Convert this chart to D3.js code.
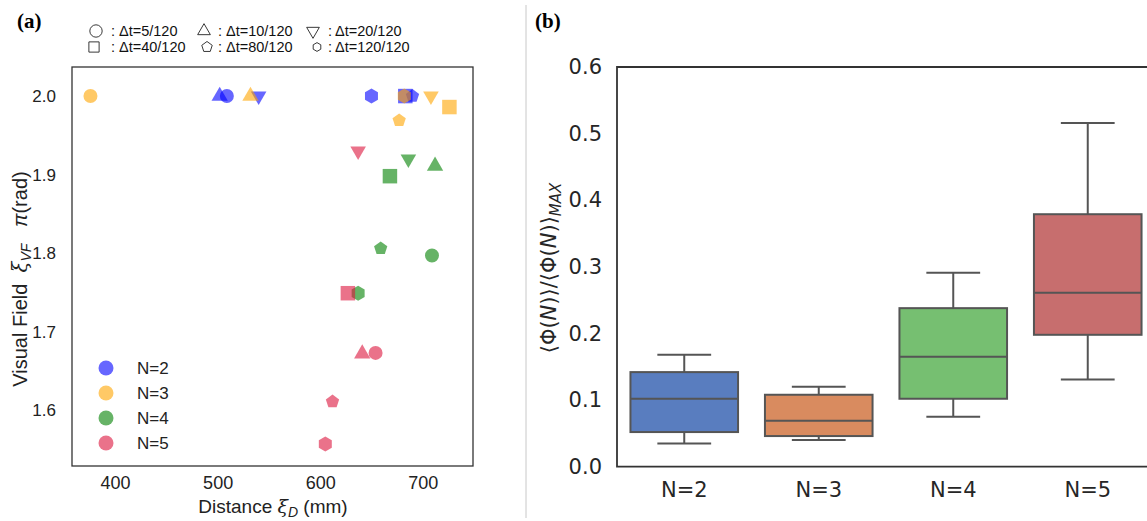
<!DOCTYPE html>
<html>
<head>
<meta charset="utf-8">
<script src="https://cdn.jsdelivr.net/npm/d3@7"></script>
<style>
  body { margin: 0; background: #fff; }
  svg { display: block; }
</style>
</head>
<body>
<svg id="fig" width="1147" height="521"></svg>
<script>
// ---- data, panel (a) ----
const shapeNames = ["circle", "triangle", "down", "square", "pentagon", "hexagon"];
const dtLabels = ["Δt=5/120", "Δt=10/120", "Δt=20/120", "Δt=40/120", "Δt=80/120", "Δt=120/120"];
const groups = ["N=2", "N=3", "N=4", "N=5"];
const groupColors = ["blue", "orange", "green", "crimson"];

// distance (mm) and visual field (pi rad), in shape order above
const distN2 = [509, 502, 540, 683, 690, 650];
const fieldN2 = [2.0, 2.0, 2.0, 2.0, 2.0, 2.0];
const distN3 = [376, 532, 708, 726, 677, 682];
const fieldN3 = [2.0, 2.0, 2.0, 1.986, 1.969, 2.0];
const distN4 = [709, 712, 686, 668, 659, 637];
const fieldN4 = [1.797, 1.911, 1.920, 1.898, 1.806, 1.749];
const distN5 = [654, 641, 637, 627, 612, 605];
const fieldN5 = [1.673, 1.672, 1.930, 1.749, 1.611, 1.557];

const xTicksA = [400, 500, 600, 700];
const yTicksA = [1.6, 1.7, 1.8, 1.9, 2.0];

// ---- data, panel (b) ----
const whiskLo = [0.035, 0.040, 0.075, 0.131];
const q1 = [0.052, 0.046, 0.102, 0.198];
const med = [0.102, 0.069, 0.165, 0.261];
const q3 = [0.142, 0.108, 0.238, 0.379];
const whiskHi = [0.168, 0.120, 0.291, 0.516];
const boxColors = ["#597dbf", "#d98b5f", "#76bf71", "#c76e6e"];
const yTicksB = [0.0, 0.1, 0.2, 0.3, 0.4, 0.5, 0.6];

const svg = d3.select("#fig");

// regular polygon symbol type (size = area)
function polyType(n, flip) {
  return {
    draw(ctx, size) {
      const r = Math.sqrt(size / (n / 2 * Math.sin(2 * Math.PI / n)));
      for (let i = 0; i < n; i++) {
        const a = -Math.PI / 2 + i * 2 * Math.PI / n + (flip ? Math.PI : 0);
        const px = r * Math.cos(a), py = r * Math.sin(a);
        if (i == 0) ctx.moveTo(px, py); else ctx.lineTo(px, py);
      }
      ctx.closePath();
    }
  };
}
const symTypes = {
  circle: d3.symbolCircle,
  triangle: polyType(3, false),
  down: polyType(3, true),
  square: d3.symbolSquare,
  pentagon: polyType(5, false),
  hexagon: polyType(6, false)
};
const symSize = { circle: 154, triangle: 115, down: 105, square: 210, pentagon: 116, hexagon: 146 };
const legSize = { circle: 120, triangle: 70, down: 70, square: 105, pentagon: 72, hexagon: 50 };

// ================= panel (a) =================
const ax = { left: 72, right: 473, top: 67, bottom: 466 };
const x = d3.scaleLinear().domain([358, 749]).range([ax.left, ax.right]);
const y = d3.scaleLinear().domain([1.529, 2.037]).range([ax.bottom, ax.top]);

const ga = svg.append("g");

ga.append("g")
  .attr("transform", translate(0, ax.bottom))
  .call(d3.axisBottom(x).tickValues(xTicksA).tickSize(0).tickPadding(10))
  .call(g => g.select(".domain").remove())
  .selectAll("text")
  .attr("font-family", "Liberation Sans, Arial, sans-serif")
  .attr("font-size", 18).attr("fill", "#222");

ga.append("g")
  .attr("transform", translate(ax.left, 0))
  .call(d3.axisLeft(y).tickValues(yTicksA).tickSize(0).tickPadding(16).tickFormat(d3.format(".1f")))
  .call(g => g.select(".domain").remove())
  .selectAll("text")
  .attr("font-family", "Liberation Sans, Arial, sans-serif")
  .attr("font-size", 17).attr("fill", "#222");

const allDist = [distN2, distN3, distN4, distN5];
const allField = [fieldN2, fieldN3, fieldN4, fieldN5];
let pts = [];
groups.forEach((g, gi) => {
  shapeNames.forEach((s, si) => {
    pts.push({ g: gi, shape: s, d: allDist[gi][si], v: allField[gi][si] });
  });
});

ga.append("g").selectAll("path")
  .data(pts)
  .join("path")
  .attr("transform", d => translate(x(d.d), y(d.v)))
  .attr("d", d => d3.symbol().type(symTypes[d.shape]).size(symSize[d.shape])())
  .attr("fill", d => groupColors[d.g])
  .attr("fill-opacity", 0.6);

ga.append("rect")
  .attr("x", ax.left).attr("y", ax.top)
  .attr("width", ax.right - ax.left).attr("height", ax.bottom - ax.top)
  .attr("fill", "none").attr("stroke", "#333").attr("stroke-width", 1.3);

// N legend
const legA = ga.append("g");
groups.forEach((g, i) => {
  legA.append("circle").attr("cx", 106).attr("cy", 368 + i * 25).attr("r", 7.5)
    .attr("fill", groupColors[i]).attr("fill-opacity", 0.6);
  legA.append("text").attr("x", 137).attr("y", 374 + i * 25).text(g)
    .attr("font-family", "Liberation Sans, Arial, sans-serif").attr("font-size", 17).attr("fill", "#222");
});

// shape legend on top
const legPos = [[96, 31], [204, 31], [313, 31], [94, 47], [207, 47], [317, 47]];
shapeNames.forEach((s, i) => {
  const p = legPos[i];
  svg.append("path")
    .attr("transform", translate(p[0], p[1]))
    .attr("d", d3.symbol().type(symTypes[s]).size(legSize[s])())
    .attr("fill", "none").attr("stroke", "#222").attr("stroke-width", 0.9);
  svg.append("text").attr("x", (i % 3 == 0 ? 113 : p[0] < 250 ? 220 : 330)).attr("y", p[1] + 5)
    .attr("text-anchor", "middle")
    .attr("font-family", "Liberation Sans, Arial, sans-serif").attr("font-size", 14.5).attr("fill", "#111")
    .text(":");
  svg.append("text").attr("x", (i % 3 == 0 ? 119 : p[0] < 250 ? 226 : 335)).attr("y", p[1] + 5)
    .attr("font-family", "Liberation Sans, Arial, sans-serif").attr("font-size", 14.5).attr("fill", "#111")
    .text(dtLabels[i]);
});

// labels
const xl = ga.append("text").attr("x", 273).attr("y", 513).attr("text-anchor", "middle")
  .attr("font-family", "Liberation Sans, Arial, sans-serif").attr("font-size", 19).attr("fill", "#222");
xl.append("tspan").text("Distance ");
xl.append("tspan").attr("font-style", "italic").attr("font-family", "DejaVu Serif, serif").text("ξ");
xl.append("tspan").attr("font-style", "italic").attr("font-size", 14).attr("dy", 4).text("D");
xl.append("tspan").attr("dy", -4).text(" (mm)");

const yl = ga.append("text").attr("transform", translate(27, 279) + " rotate(-90)").attr("text-anchor", "middle")
  .attr("font-family", "Liberation Sans, Arial, sans-serif").attr("font-size", 20).attr("fill", "#222")
  .attr("xml:space", "preserve");
yl.append("tspan").text("Visual Field  ");
yl.append("tspan").attr("font-style", "italic").attr("font-family", "DejaVu Serif, serif").text("ξ");
yl.append("tspan").attr("font-style", "italic").attr("font-size", 14).attr("dy", 4).text("VF");
yl.append("tspan").attr("dy", -4).text("   ");
yl.append("tspan").attr("font-style", "italic").text("π");
yl.append("tspan").text("(rad)");

svg.append("text").attr("x", 17).attr("y", 28).text("(a)")
  .attr("font-family", "Liberation Serif, Times New Roman, serif").attr("font-weight", "bold").attr("font-size", 21);

// separator
svg.append("line").attr("x1", 526).attr("x2", 526).attr("y1", 5).attr("y2", 518)
  .attr("stroke", "#c8c8c8").attr("stroke-width", 1);

// ================= panel (b) =================
const bx = { left: 617, right: 1155, top: 67, bottom: 466.7 };
const xb = d3.scaleBand().domain(groups).range([bx.left, bx.right]).paddingInner(0.2).paddingOuter(0.1);
const yb = d3.scaleLinear().domain([0, 0.6]).range([bx.bottom, bx.top]);

const gb = svg.append("g");

gb.append("g")
  .attr("transform", translate(0, bx.bottom))
  .call(d3.axisBottom(xb).tickSize(0).tickPadding(15))
  .call(g => g.select(".domain").remove())
  .selectAll("text")
  .attr("font-family", "DejaVu Sans, sans-serif").attr("font-size", 21).attr("fill", "#262626");

gb.append("g")
  .attr("transform", translate(bx.left, 0))
  .call(d3.axisLeft(yb).tickValues(yTicksB).tickSize(0).tickPadding(15).tickFormat(d3.format(".1f")))
  .call(g => g.select(".domain").remove())
  .selectAll("text")
  .attr("font-family", "DejaVu Sans, sans-serif").attr("font-size", 21).attr("fill", "#262626");

const boxes = groups.map((g, i) => ({
  g: g, lo: whiskLo[i], q1: q1[i], med: med[i], q3: q3[i], hi: whiskHi[i], color: boxColors[i]
}));
const lineCol = "#555";
const bw = xb.bandwidth();

const bg = gb.append("g").selectAll("g").data(boxes).join("g");
// whiskers
bg.append("line")
  .attr("x1", d => xb(d.g) + bw / 2).attr("x2", d => xb(d.g) + bw / 2)
  .attr("y1", d => yb(d.hi)).attr("y2", d => yb(d.q3))
  .attr("stroke", lineCol).attr("stroke-width", 2);
bg.append("line")
  .attr("x1", d => xb(d.g) + bw / 2).attr("x2", d => xb(d.g) + bw / 2)
  .attr("y1", d => yb(d.q1)).attr("y2", d => yb(d.lo))
  .attr("stroke", lineCol).attr("stroke-width", 2);
// caps
bg.append("line")
  .attr("x1", d => xb(d.g) + bw / 4).attr("x2", d => xb(d.g) + bw * 3 / 4)
  .attr("y1", d => yb(d.hi)).attr("y2", d => yb(d.hi))
  .attr("stroke", lineCol).attr("stroke-width", 2);
bg.append("line")
  .attr("x1", d => xb(d.g) + bw / 4).attr("x2", d => xb(d.g) + bw * 3 / 4)
  .attr("y1", d => yb(d.lo)).attr("y2", d => yb(d.lo))
  .attr("stroke", lineCol).attr("stroke-width", 2);
// box
bg.append("rect")
  .attr("x", d => xb(d.g)).attr("width", bw)
  .attr("y", d => yb(d.q3)).attr("height", d => yb(d.q1) - yb(d.q3))
  .attr("fill", d => d.color).attr("stroke", lineCol).attr("stroke-width", 2);
// median
bg.append("line")
  .attr("x1", d => xb(d.g)).attr("x2", d => xb(d.g) + bw)
  .attr("y1", d => yb(d.med)).attr("y2", d => yb(d.med))
  .attr("stroke", lineCol).attr("stroke-width", 2);

// frame (right side falls outside the picture)
gb.append("path")
  .attr("d", `M${bx.right},${bx.top}H${bx.left}V${bx.bottom}H${bx.right}`)
  .attr("fill", "none").attr("stroke", "#333").attr("stroke-width", 1.8);

const ylb = gb.append("text").attr("transform", translate(556, 268) + " rotate(-90)").attr("text-anchor", "middle")
  .attr("font-family", "DejaVu Sans, sans-serif").attr("font-size", 21).attr("fill", "#262626");
ylb.append("tspan").text("⟨Φ(");
ylb.append("tspan").attr("font-style", "italic").text("N");
ylb.append("tspan").text(")⟩/⟨Φ(");
ylb.append("tspan").attr("font-style", "italic").text("N");
ylb.append("tspan").text(")⟩");
ylb.append("tspan").attr("font-style", "italic").attr("font-size", 15).attr("dy", 5).text("MAX");

svg.append("text").attr("x", 535).attr("y", 28).text("(b)")
  .attr("font-family", "Liberation Serif, Times New Roman, serif").attr("font-weight", "bold").attr("font-size", 21);

function translate(x, y) {
  return "translate(" + x + "," + y + ")";
}
</script>
</body>
</html>
